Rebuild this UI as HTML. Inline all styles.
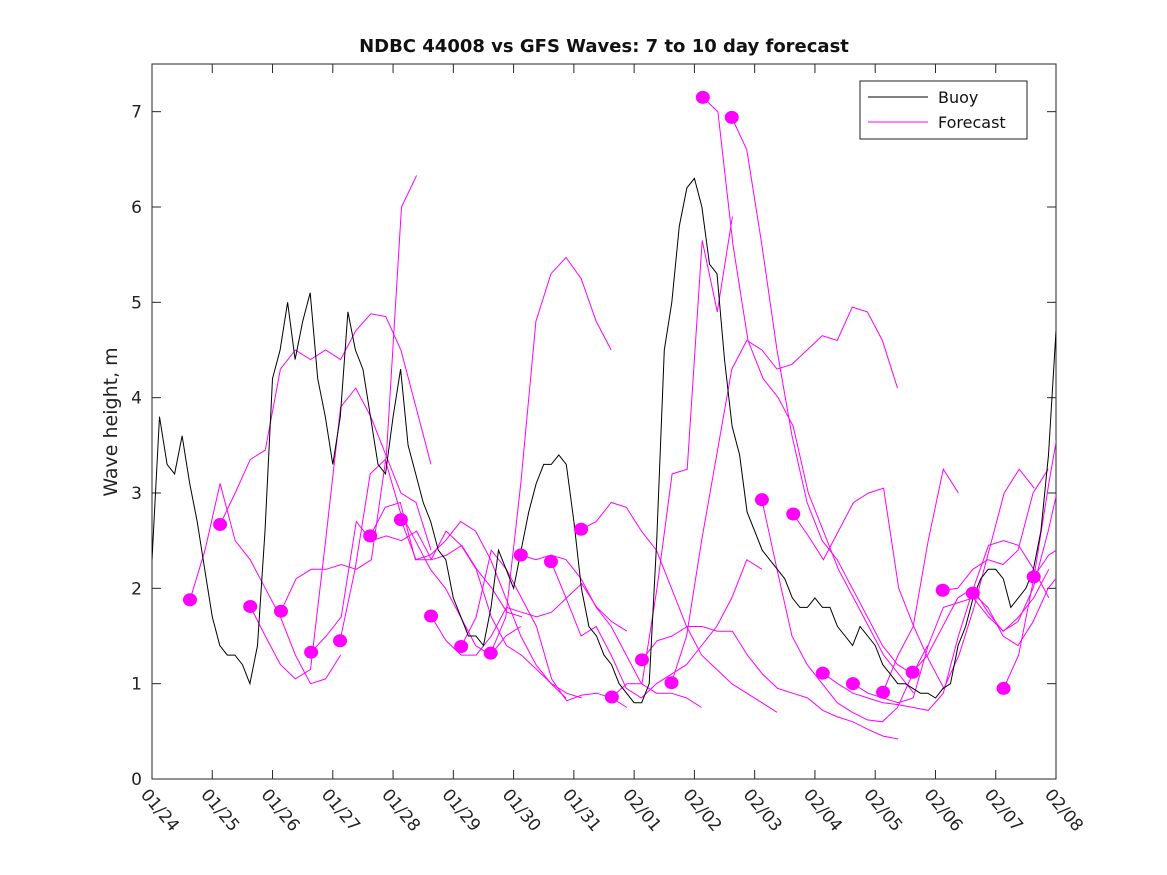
<!DOCTYPE html>
<html><head><meta charset="utf-8"><style>
body{margin:0;background:#fff}
svg{display:block;font-family:"DejaVu Sans","Liberation Sans",sans-serif}
</style></head><body>
<svg id="chart" width="1167" height="875" viewBox="0 0 1167 875">
<rect x="0" y="0" width="1167" height="875" fill="#fff"/>
<text x="604" y="52" text-anchor="middle" font-size="18" font-weight="bold" fill="#111">NDBC 44008 vs GFS Waves: 7 to 10 day forecast</text>
<text transform="translate(117,422) rotate(-90)" text-anchor="middle" font-size="19" fill="#222">Wave height, m</text>
<defs><clipPath id="plotclip"><rect x="152" y="64" width="904" height="715"/></clipPath></defs>
<g id="axes"></g>
<g id="fc" clip-path="url(#plotclip)"></g>
<g id="buoy" clip-path="url(#plotclip)"></g>
<g id="dots"></g>
<g>
<rect x="860" y="81" width="167" height="58" fill="#fff" stroke="#222" stroke-width="1"/>
<line x1="868" y1="97" x2="928" y2="97" stroke="#000"/>
<text x="938" y="103" font-size="16" fill="#111">Buoy</text>
<line x1="868" y1="122" x2="928" y2="122" stroke="#ff00ff"/>
<text x="938" y="128" font-size="16" fill="#111">Forecast</text>
</g>
</svg>
<script>
const xTickLabels=["01/24","01/25","01/26","01/27","01/28","01/29","01/30","01/31","02/01","02/02","02/03","02/04","02/05","02/06","02/07","02/08"];
const yTicks=[0,1,2,3,4,5,6,7];
const buoyStep=0.125;
const buoyValues=[2.3,3.8,3.3,3.2,3.6,3.1,2.7,2.2,1.7,1.4,1.3,1.3,1.2,1.0,1.4,2.6,4.2,4.5,5.0,4.4,4.8,5.1,4.2,3.8,3.3,3.8,4.9,4.5,4.3,3.8,3.3,3.2,3.8,4.3,3.5,3.2,2.9,2.7,2.4,2.3,1.9,1.7,1.5,1.5,1.4,1.8,2.4,2.2,2.0,2.4,2.8,3.1,3.3,3.3,3.4,3.3,2.7,2.0,1.6,1.5,1.3,1.2,1.0,0.9,0.8,0.8,1.0,2.5,4.5,5.0,5.8,6.2,6.3,6.0,5.4,5.3,4.4,3.7,3.4,2.8,2.6,2.4,2.3,2.2,2.1,1.9,1.8,1.8,1.9,1.8,1.8,1.6,1.5,1.4,1.6,1.5,1.4,1.2,1.1,1.0,1.0,0.95,0.9,0.9,0.85,0.95,1.0,1.4,1.6,1.9,2.1,2.2,2.2,2.1,1.8,1.9,2.0,2.2,2.6,3.4,4.7];
const fcStep=0.25;
const fcStarts=[0.63,1.13,1.63,2.14,2.64,3.12,3.62,4.13,4.63,5.13,5.62,6.12,6.62,7.12,7.63,8.13,8.62,9.14,9.62,10.12,10.64,11.13,11.63,12.13,12.62,13.12,13.62,14.13,14.63];
const fcValues=[
[1.88,2.4,3.1,2.5,2.3,2.0,1.7,1.3,1.0,1.05,1.3],
[2.67,3.0,3.35,3.45,4.3,4.5,4.4,4.5,4.4,4.7,4.88,4.85,4.5,3.9,3.3],
[1.81,1.5,1.2,1.05,1.15,2.5,3.9,4.1,3.8,3.4,3.0,2.9,2.4],
[1.76,2.1,2.2,2.2,2.25,2.2,2.3,3.4,6.0,6.33],
[1.33,1.5,1.7,2.7,2.5,2.55,2.5,2.6,2.3,2.35,2.45,2.2,2.0,1.75,1.7],
[1.45,2.2,3.2,3.35,2.8,2.5,2.2,2.0,1.7,1.4,1.3,1.5,1.6],
[2.55,2.85,2.9,2.3,2.35,2.5,2.7,2.6,2.3,1.9,1.5,1.2,1.0,0.85],
[2.72,2.3,2.3,2.6,2.45,2.2,1.7,1.4,1.3,1.15,1.0,0.9,0.85],
[1.71,1.45,1.3,1.3,1.5,1.8,1.75,1.7,1.75,1.9,2.05,1.8,1.65,1.55],
[1.39,1.7,2.4,2.2,1.9,1.6,1.05,0.82,0.88,0.9,0.85,0.75],
[1.32,1.7,3.1,4.8,5.3,5.47,5.25,4.8,4.5],
[2.35,2.3,2.35,2.3,2.1,1.8,1.6,1.3,1.0,0.9,0.9,0.85,0.75],
[2.28,1.9,1.5,1.6,1.3,0.95,0.85,1.0,1.1,1.2,1.4,1.6,1.9,2.3,2.2],
[2.62,2.7,2.9,2.85,2.6,2.4,2.0,1.6,1.3,1.15,1.0,0.9,0.8,0.7],
[0.86,1.0,1.0,2.0,3.2,3.25,5.65,4.9,5.9],
[1.25,1.45,1.5,1.6,1.6,1.55,1.55,1.3,1.1,0.95,0.9,0.85,0.72,0.65,0.6,0.52,0.45,0.42],
[1.01,1.5,2.5,3.4,4.3,4.6,4.5,4.3,4.35,4.5,4.65,4.6,4.95,4.9,4.6,4.1],
[7.15,7.0,5.6,4.6,4.2,4.0,3.7,3.0,2.6,2.2,1.9,1.6,1.3,1.1,0.9],
[6.94,6.6,5.6,4.5,3.6,2.9,2.5,2.3,2.0,1.7,1.4,1.2,1.1],
[2.93,2.2,1.5,1.2,1.0,0.8,0.7,0.62,0.6,0.75,1.1,1.4],
[2.78,2.55,2.3,2.6,2.9,3.0,3.05,2.0,1.6,1.25,0.95,1.3,1.8,2.4,3.0,3.25,3.05],
[1.11,1.0,0.9,0.85,0.8,0.78,0.75,0.72,0.9,1.5,2.0,2.45,2.5,2.45,2.2,1.9],
[1.0,0.9,0.85,0.8,0.85,1.4,1.8,1.85,1.9,1.7,1.55,1.7,1.9,2.2],
[0.91,1.3,1.6,2.5,3.25,3.0],
[1.12,1.3,1.6,1.9,2.0,1.75,1.55,1.65,2.0,2.6,3.3,4.4,3.95,4.75],
[1.98,2.0,2.2,2.3,2.25,2.4,3.0,3.25],
[1.95,1.8,1.5,1.4,1.65,2.0,2.2,3.0,4.5],
[0.95,1.3,2.1,3.1,4.0,4.75],
[2.12,2.35,2.45,2.3]
];
const X0=152,X1=1056,Y0=779,Y1=64,DAYS=15,YMAX=7.5;
function xs(d){return X0+(X1-X0)*d/DAYS;}
function ys(v){return Y0-(Y0-Y1)*v/YMAX;}
const NS="http://www.w3.org/2000/svg";
function mk(tag,attrs,parent){const e=document.createElementNS(NS,tag);for(const k in attrs)e.setAttribute(k,attrs[k]);parent.appendChild(e);return e;}
const axes=document.getElementById('axes');
const frame=mk('rect',{x:X0,y:Y1,width:X1-X0,height:Y0-Y1,fill:'none',stroke:'#262626','stroke-width':1},axes);


yTicks.forEach(v=>{
  const y=ys(v);
  const t1=mk('line',{x1:X0,y1:y,x2:X0+9,y2:y,stroke:'#262626'},axes);
  
  
  const t2=mk('line',{x1:X1,y1:y,x2:X1-9,y2:y,stroke:'#262626'},axes);
  
  
  const tx=mk('text',{x:X0-10,y:y+6,'text-anchor':'end','font-size':17,fill:'#222'},axes);
  tx.textContent=v;
  
  
});
xTickLabels.forEach((lab,i)=>{
  const x=xs(i);
  const t1=mk('line',{x1:x,y1:Y0,x2:x,y2:Y0-9,stroke:'#262626'},axes);
  
  
  const t2=mk('line',{x1:x,y1:Y1,x2:x,y2:Y1+9,stroke:'#262626'},axes);
  
  
  const tx=mk('text',{x:0,y:0,transform:`translate(${x-12},${Y0+16}) rotate(50)`,'font-size':17,fill:'#222'},axes);
  tx.textContent=lab;
  
  
});
const fc=document.getElementById('fc'),dots=document.getElementById('dots');
fcValues.forEach((vals,i)=>{
  const pts=vals.map((v,j)=>xs(fcStarts[i]+j*fcStep).toFixed(1)+','+ys(v).toFixed(1)).join(' ');
  const pl=mk('polyline',{points:pts,fill:'none',stroke:'#ff00ff','stroke-width':1},fc);
  
  
  const c=mk('ellipse',{cx:xs(fcStarts[i]),cy:ys(vals[0]),rx:7,ry:6.5,fill:'#ff00ff'},dots);
  
  
});
const bp=buoyValues.map((v,j)=>xs(j*buoyStep).toFixed(1)+','+ys(v).toFixed(1)).join(' ');
const bl=mk('polyline',{points:bp,fill:'none',stroke:'#000','stroke-width':1},document.getElementById('buoy'));


</script>
</body></html>
